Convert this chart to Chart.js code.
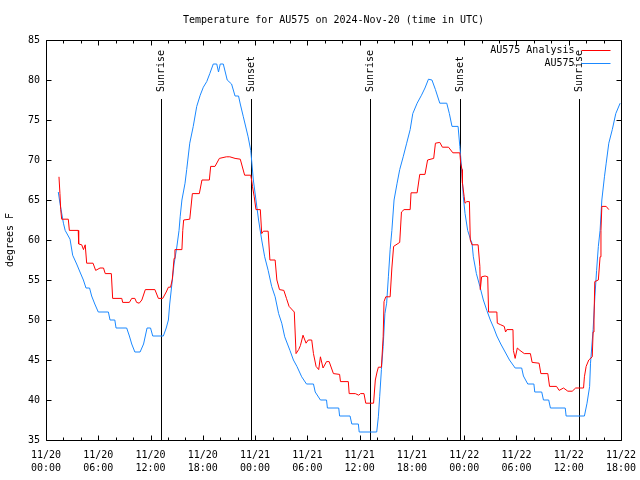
<!DOCTYPE html>
<html>
<head>
<meta charset="utf-8">
<script src="https://cdn.jsdelivr.net/npm/chart.js@4.4.0/dist/chart.umd.min.js"></script>
<style>
  body { margin: 0; background: #fff; }
  canvas { display: block; }
</style>
</head>
<body>
<canvas id="grafico" width="640" height="480"></canvas>
<script>
// hours since 11/20 00:00 UTC
const analysisHours = [1.49, 1.6, 1.69, 1.8, 2.56, 2.68, 3.7, 3.75, 4.1, 4.3, 4.5, 4.67, 5.4, 5.7, 6.2, 6.6, 6.8, 7.5, 7.65, 8.7, 8.8, 9.57, 9.84, 10.2, 10.4, 10.7, 11.0, 11.4, 12.5, 12.9, 13.4, 13.8, 14.05, 14.3, 14.5, 14.7, 14.8, 15.6, 15.7, 15.8, 16.5, 16.8, 17.6, 17.9, 18.75, 18.9, 19.4, 19.9, 20.7, 21.1, 21.7, 22.3, 22.8, 23.5, 23.6, 23.7, 23.9, 24.1, 24.6, 24.76, 24.95, 25.5, 25.7, 26.3, 26.5, 26.8, 27.3, 27.6, 27.9, 28.5, 28.7, 29.0, 29.2, 29.5, 29.85, 30.1, 30.5, 30.7, 31.0, 31.3, 31.5, 31.8, 32.2, 32.5, 32.99, 33.7, 33.8, 34.7, 34.8, 35.5, 35.9, 36.1, 36.5, 36.7, 37.6, 37.8, 38.0, 38.15, 38.5, 38.7, 38.8, 39.0, 39.5, 39.7, 39.9, 40.6, 40.8, 41.1, 41.8, 41.9, 42.6, 42.9, 43.5, 43.8, 44.5, 44.7, 45.2, 45.5, 46.2, 46.7, 47.5, 47.6, 47.75, 47.8, 48.0, 48.1, 48.3, 48.6, 48.7, 48.9, 49.6, 49.8, 49.85, 50.0, 50.4, 50.7, 50.8, 51.75, 51.8, 52.2, 52.6, 52.75, 52.9, 53.6, 53.65, 53.85, 54.1, 54.4, 54.9, 55.6, 55.8, 56.6, 56.8, 57.6, 57.8, 58.6, 58.9, 59.4, 59.9, 60.4, 60.8, 61.7, 61.8, 62.0, 62.3, 62.7, 62.8, 62.9, 62.99, 63.4, 63.6, 63.7, 63.8, 64.3, 64.6];
const analysisTemps = [67.9, 65.8, 63.8, 62.6, 62.6, 61.2, 61.2, 59.5, 59.4, 58.8, 59.4, 57.1, 57.1, 56.2, 56.5, 56.5, 55.8, 55.8, 52.7, 52.7, 52.2, 52.2, 52.7, 52.7, 52.2, 52.1, 52.5, 53.8, 53.8, 52.7, 52.7, 53.5, 54.1, 54.1, 55.1, 57.7, 58.8, 58.8, 61.2, 62.5, 62.6, 65.8, 65.8, 67.5, 67.5, 69.2, 69.2, 70.2, 70.4, 70.4, 70.2, 70.1, 68.1, 68.1, 67.5, 66.7, 65.4, 63.8, 63.8, 60.8, 61.1, 61.1, 57.5, 57.5, 55, 53.8, 53.7, 52.7, 51.7, 51, 45.8, 46.3, 46.8, 48.1, 47.1, 47.5, 47.5, 45.8, 44.2, 43.8, 45.4, 44, 44.8, 44.8, 43.3, 43.2, 42.3, 42.3, 40.8, 40.8, 40.6, 40.8, 40.8, 39.6, 39.6, 42.5, 43.5, 44.1, 44.1, 47.9, 52.3, 52.9, 52.9, 56.5, 59.2, 59.7, 63.5, 63.8, 63.8, 65.9, 65.9, 68.2, 68.2, 70, 70.2, 72.1, 72.2, 71.6, 71.6, 70.9, 70.9, 69.6, 68.8, 67.1, 65.4, 64.6, 64.8, 64.8, 60, 59.4, 59.4, 56.7, 53.8, 55.4, 55.5, 55.4, 51, 51, 49.6, 49.4, 49.2, 48.5, 48.8, 48.8, 46.2, 45.2, 46.5, 46.2, 45.8, 45.8, 44.7, 44.6, 43.3, 43.3, 41.7, 41.7, 41.2, 41.5, 41.1, 41.1, 41.5, 41.5, 42.9, 44.2, 45, 45.4, 48.5, 50, 54.8, 55, 57.9, 61.2, 64.2, 64.2, 63.8];

const stationHours = [1.41, 1.6, 2.0, 2.2, 2.76, 3.06, 3.52, 3.9, 4.29, 4.59, 5.0, 5.24, 5.6, 6.0, 7.16, 7.35, 7.9, 8.04, 9.26, 9.57, 9.84, 10.2, 10.8, 11.2, 11.6, 12.0, 12.25, 13.47, 13.8, 14.05, 14.2, 14.4, 14.7, 15.0, 15.27, 15.4, 15.6, 15.96, 16.15, 16.5, 16.9, 17.3, 17.7, 18.06, 18.45, 18.8, 19.2, 19.6, 19.8, 20.0, 20.35, 20.8, 21.3, 21.7, 22.1, 22.3, 22.65, 22.96, 23.2, 23.5, 23.6, 23.8, 24.1, 24.4, 24.76, 25.1, 25.5, 25.9, 26.3, 26.7, 27.06, 27.4, 28.0, 28.4, 28.8, 29.35, 29.9, 30.7, 30.9, 31.5, 32.2, 32.3, 33.6, 33.7, 34.9, 35.1, 35.85, 35.95, 37.96, 38.15, 38.3, 38.5, 38.7, 38.9, 39.1, 39.3, 39.5, 39.7, 39.95, 40.3, 40.6, 41.0, 41.4, 41.8, 42.1, 42.6, 43.1, 43.5, 43.9, 44.3, 44.7, 45.2, 46.0, 46.3, 46.6, 47.3, 47.5, 47.6, 47.75, 47.9, 48.1, 48.4, 48.75, 48.9, 49.05, 49.4, 49.8, 50.2, 50.6, 51.0, 51.4, 51.75, 52.2, 52.7, 53.2, 53.85, 54.6, 54.8, 55.3, 56.0, 56.1, 56.9, 57.1, 57.7, 57.9, 59.6, 59.7, 61.8, 62.1, 62.4, 62.5, 62.8, 63.0, 63.2, 63.4, 63.6, 63.8, 64.1, 64.3, 64.6, 65.0, 65.4, 65.9];
const stationTemps = [66, 64.6, 62.1, 61.2, 60.1, 58.1, 57, 56, 55, 54, 54, 53, 52, 51, 51, 50, 50, 49, 49, 48, 47, 46, 46, 47, 49, 49, 48, 48, 49, 50, 52, 54, 57, 59, 61.2, 62.9, 65, 67.1, 68.8, 72.1, 74.2, 76.7, 78.1, 79.1, 79.8, 80.8, 82, 82, 81, 82, 82, 80, 79.5, 78, 78, 77, 75.4, 74, 72.9, 71.2, 70, 67.5, 65, 62.5, 60, 57.9, 56.2, 54.2, 52.9, 50.8, 49.6, 47.9, 46.2, 45, 44.2, 42.9, 42, 42, 41, 40, 40, 39, 39, 38, 38, 37, 37, 36, 36, 37.9, 40.4, 43.8, 46.7, 50.8, 52.1, 55.4, 58.8, 61.2, 65, 67.1, 68.8, 70.4, 72.1, 73.8, 75.8, 77.1, 78.1, 79, 80.1, 80, 78.8, 77.1, 77.1, 75.8, 74.2, 74.2, 71.7, 70.4, 68.3, 65.4, 63.3, 61.2, 60, 59.6, 57.9, 55.8, 54.2, 52.5, 51.2, 50, 49, 48, 47, 46, 45, 44, 44, 43, 42, 42, 41, 41, 40, 40, 39, 39, 38, 38, 39.6, 41.7, 44.6, 48.8, 52.9, 56.2, 59.2, 61.2, 65, 67.9, 69.6, 72.1, 73.8, 75.8, 77.1];

const xTickDays = ['11/20', '11/20', '11/20', '11/20', '11/21', '11/21', '11/21', '11/21', '11/22', '11/22', '11/22', '11/22'];
const xTickTimes = ['00:00', '06:00', '12:00', '18:00', '00:00', '06:00', '12:00', '18:00', '00:00', '06:00', '12:00', '18:00'];

const sunHours = [13.17, 23.57, 37.24, 47.57, 61.23];
const sunLabels = ['Sunrise', 'Sunset', 'Sunrise', 'Sunset', 'Sunrise'];

const seriesNames = ['AU575 Analysis', 'AU575'];
const seriesColors = ['#ff0000', '#1a88ff'];

const FONT = '10px "DejaVu Sans Mono", monospace';

function toPoints(xs, ys) {
  return xs.map((x, i) => ({ x: x, y: ys[i] }));
}

// gnuplot style: ticks inward, box around plot, sunrise/sunset markers, legend
const gnuplotLook = {
  id: 'gnuplotLook',
  beforeDatasetsDraw(chart) {
    const ctx = chart.ctx;
    const a = chart.chartArea;
    const xs = chart.scales.x;
    const lineTop = Math.round(a.top + (a.bottom - a.top) * 0.148);
    ctx.save();
    ctx.strokeStyle = '#000';
    ctx.lineWidth = 1;
    ctx.fillStyle = '#000';
    ctx.font = FONT;
    ctx.textBaseline = 'middle';
    sunHours.forEach((h, i) => {
      const px = Math.round(xs.getPixelForValue(h)) + 0.5;
      ctx.beginPath();
      ctx.moveTo(px, lineTop);
      ctx.lineTo(px, a.bottom);
      ctx.stroke();
      ctx.save();
      ctx.translate(px, lineTop - 7);
      ctx.rotate(-Math.PI / 2);
      ctx.textAlign = 'left';
      ctx.fillText(sunLabels[i], 0, 0);
      ctx.restore();
    });
    ctx.restore();
  },
  afterDraw(chart) {
    const ctx = chart.ctx;
    const a = chart.chartArea;
    const xs = chart.scales.x;
    const ys = chart.scales.y;
    const L = Math.round(a.left) + 0.5, R = Math.round(a.right) + 0.5;
    const T = Math.round(a.top) + 0.5, B = Math.round(a.bottom) + 0.5;
    ctx.save();
    ctx.strokeStyle = '#000';
    ctx.lineWidth = 1;
    ctx.beginPath();
    ctx.rect(L, T, R - L, B - T);
    // x ticks: major every 6 h, minor every 2 h
    for (let h = 0; h <= xs.max; h += 2) {
      const px = Math.round(xs.getPixelForValue(h)) + 0.5;
      const len = h % 6 === 0 ? 5 : 3;
      ctx.moveTo(px, B); ctx.lineTo(px, B - len);
      ctx.moveTo(px, T); ctx.lineTo(px, T + len);
    }
    for (let v = ys.min; v <= ys.max; v += 5) {
      const py = Math.round(ys.getPixelForValue(v)) + 0.5;
      ctx.moveTo(L, py); ctx.lineTo(L + 5, py);
      ctx.moveTo(R, py); ctx.lineTo(R - 5, py);
    }
    ctx.stroke();

    // legend, text right aligned, sample line to the right
    ctx.font = FONT;
    ctx.textAlign = 'right';
    ctx.textBaseline = 'middle';
    seriesNames.forEach((name, i) => {
      const y = Math.round(a.top + 10 + i * 12.5) + 0.5;
      ctx.fillStyle = '#000';
      ctx.fillText(name, R - 47, y);
      ctx.strokeStyle = seriesColors[i];
      ctx.beginPath();
      ctx.moveTo(R - 40, y);
      ctx.lineTo(R - 11, y);
      ctx.stroke();
    });
    ctx.restore();
  }
};

const ctx = document.getElementById('grafico').getContext('2d');
new Chart(ctx, {
  type: 'line',
  data: {
    datasets: [
      {
        label: seriesNames[0],
        data: toPoints(analysisHours, analysisTemps),
        borderColor: seriesColors[0],
        borderWidth: 1,
        pointRadius: 0,
        tension: 0
      },
      {
        label: seriesNames[1],
        data: toPoints(stationHours, stationTemps),
        borderColor: seriesColors[1],
        borderWidth: 1,
        pointRadius: 0,
        tension: 0
      }
    ]
  },
  options: {
    responsive: false,
    animation: false,
    devicePixelRatio: 1,
    layout: { padding: { left: 0, right: 19, top: 0, bottom: 0 } },
    plugins: {
      legend: { display: false },
      tooltip: { enabled: false },
      title: {
        display: true,
        fullSize: false,
        text: 'Temperature for AU575 on 2024-Nov-20 (time in UTC)',
        color: '#000',
        font: { family: '"DejaVu Sans Mono", monospace', size: 10, weight: 'normal', lineHeight: 1.2 },
        padding: { top: 14, bottom: 14 }
      }
    },
    scales: {
      x: {
        type: 'linear',
        min: 0,
        max: 66,
        grid: { display: false, drawTicks: false },
        border: { display: false },
        afterFit(scale) {
          scale.height = 40;
          scale.paddingLeft = 0;
          scale.paddingRight = 0;
        },
        ticks: {
          stepSize: 6,
          autoSkip: false,
          maxRotation: 0,
          padding: 9,
          color: '#000',
          font: { family: '"DejaVu Sans Mono", monospace', size: 10, lineHeight: 1.3 },
          callback: function (value) {
            const i = Math.round(value / 6);
            return [xTickDays[i], xTickTimes[i]];
          }
        }
      },
      y: {
        min: 35,
        max: 85,
        grid: { display: false, drawTicks: false },
        border: { display: false },
        afterFit(scale) {
          scale.width = 46;
          scale.paddingTop = 0;
          scale.paddingBottom = 0;
        },
        title: {
          display: true,
          text: 'degrees F',
          color: '#000',
          font: { family: '"DejaVu Sans Mono", monospace', size: 10 },
          padding: { top: 4, bottom: 0 }
        },
        ticks: {
          stepSize: 5,
          padding: 6,
          color: '#000',
          font: { family: '"DejaVu Sans Mono", monospace', size: 10 }
        }
      }
    }
  },
  plugins: [gnuplotLook]
});
</script>
</body>
</html>
